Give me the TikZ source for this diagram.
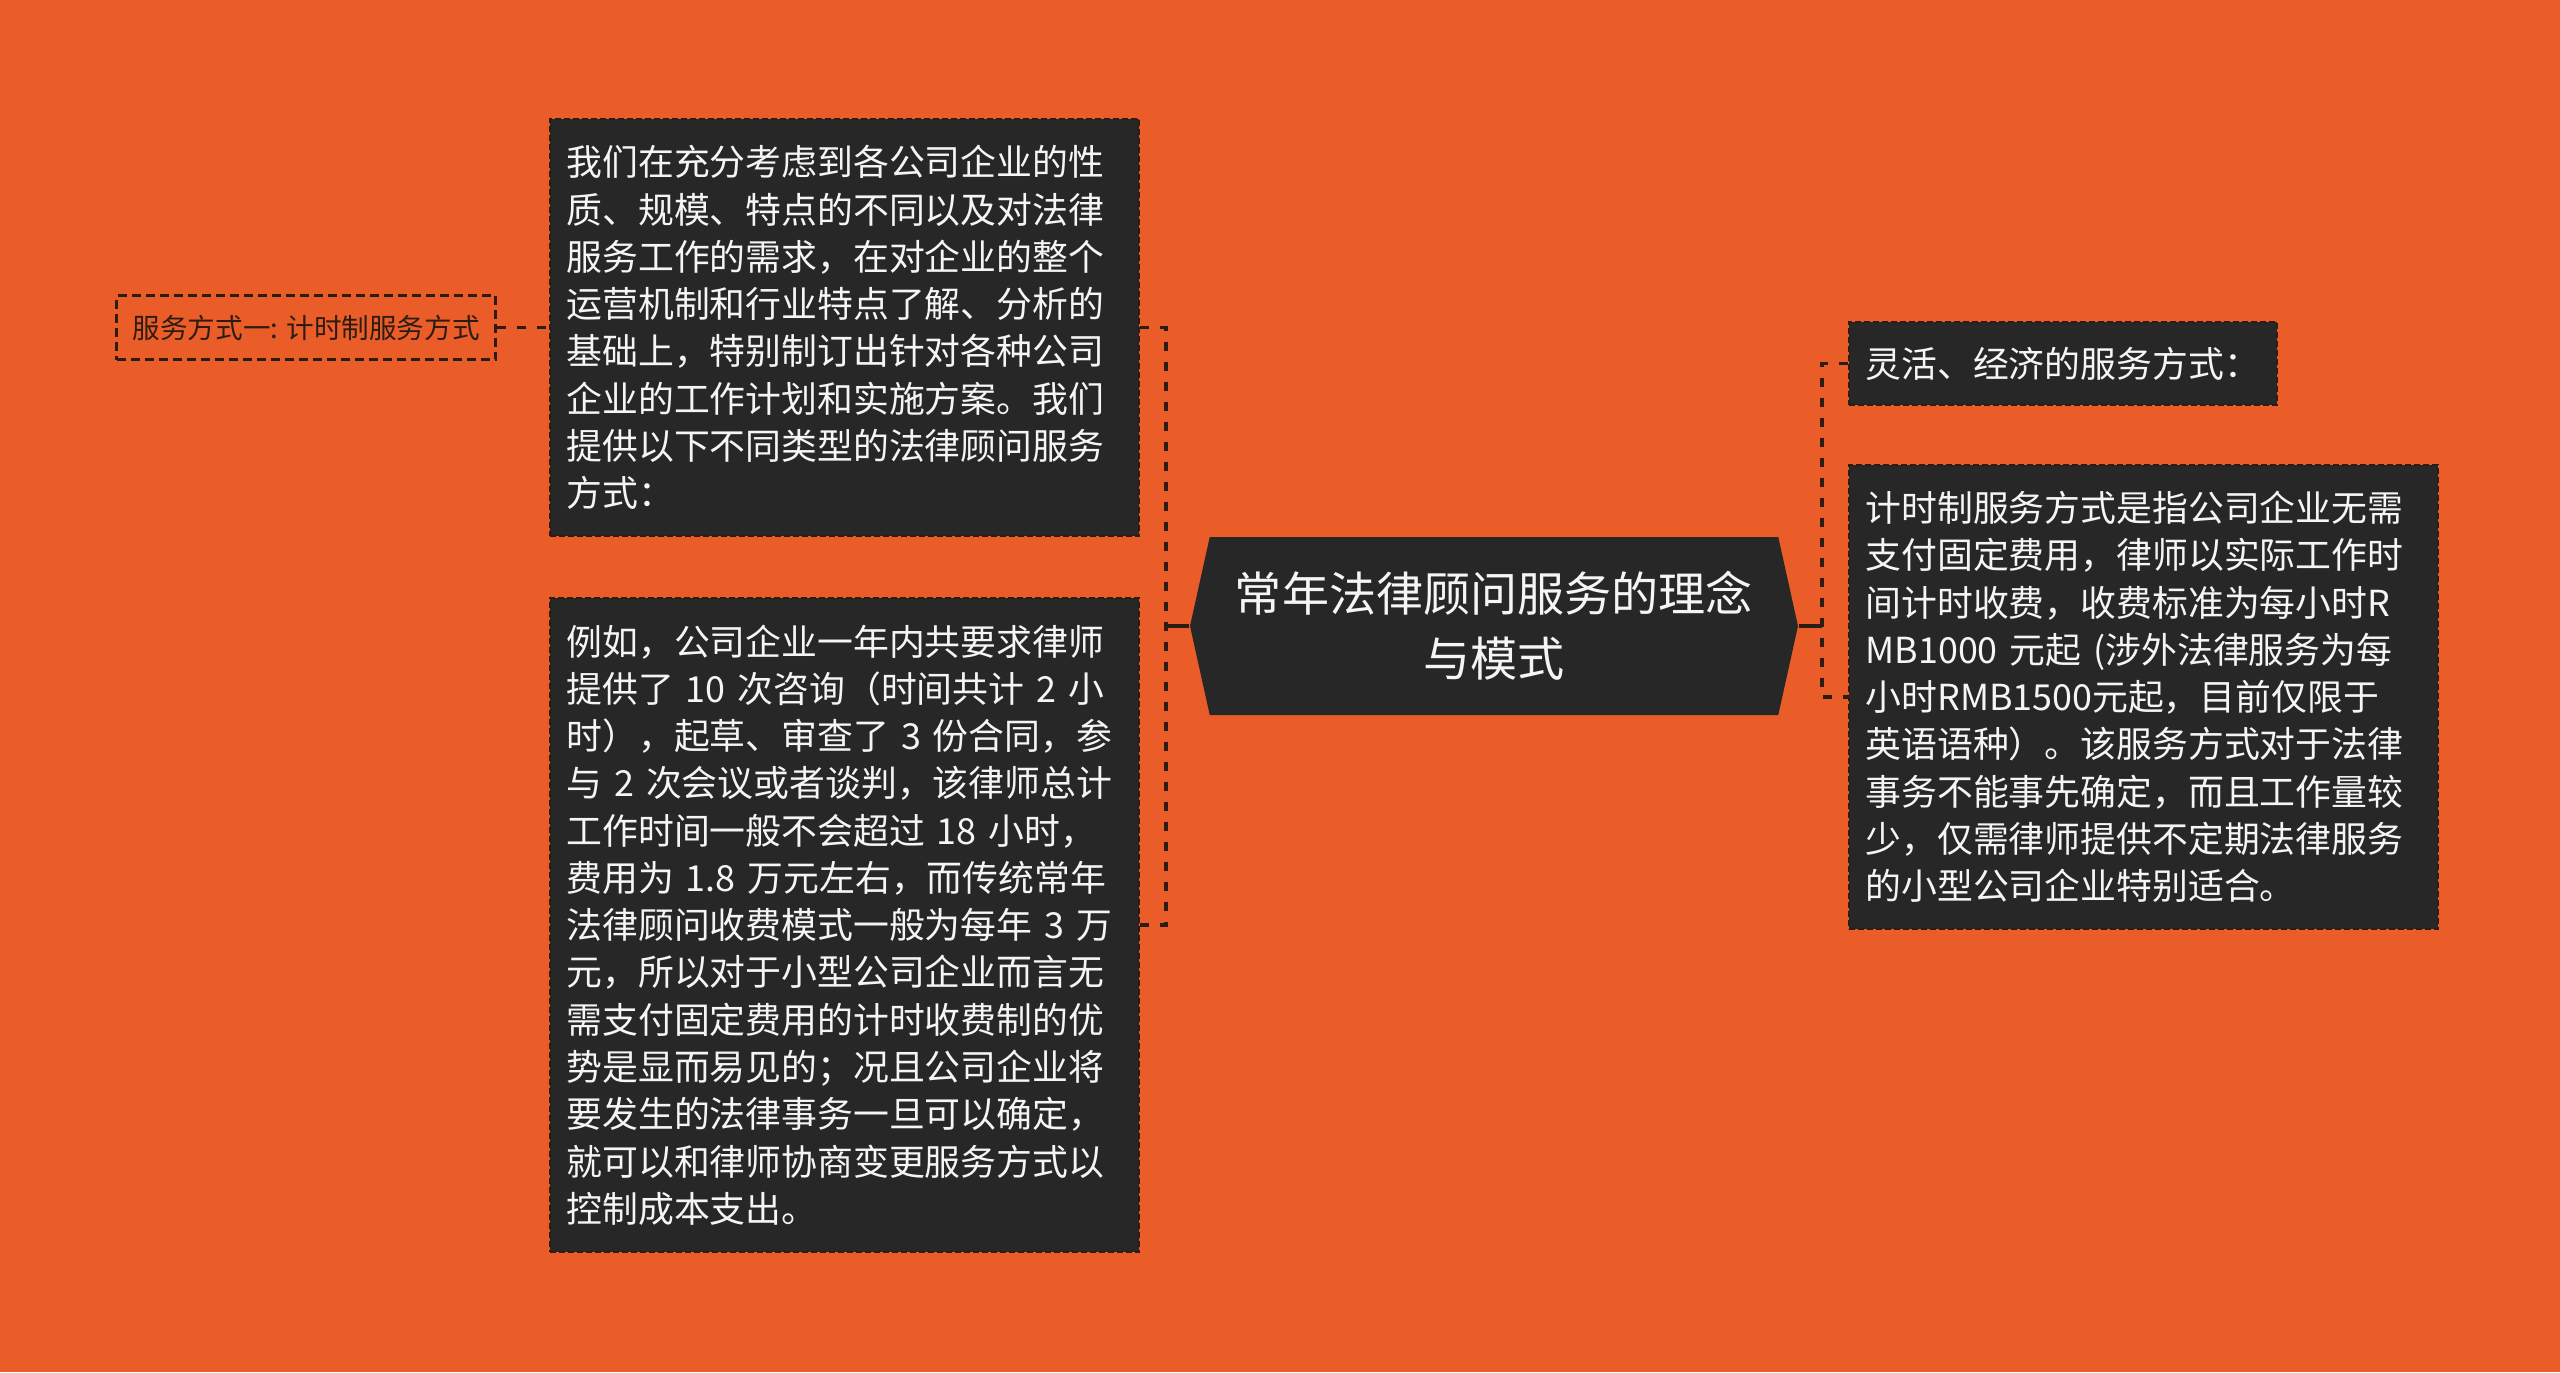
\documentclass[tikz,border=0pt]{standalone}
\usepackage{fontspec}
\setmainfont{Noto Sans CJK SC}
\usetikzlibrary{positioning,
                shapes.symbols}
\definecolor{mbg}{RGB}{235,93,40}
\definecolor{mbox}{RGB}{39,39,39}
\definecolor{mline}{RGB}{45,28,20}
\definecolor{mtext}{RGB}{245,245,245}
\tikzset{
    core/.style = {signal, signal to=east and west, signal pointer angle=155,
                   fill=mbox, text=mtext, align=center, inner sep=0pt,
                   minimum width=60.8mm, minimum height=17.8mm,
                   font=\fontsize{13.4pt}{18.5pt}\selectfont},
    block/.style = {rectangle, draw=mline, fill=mbox, text=mtext, line width=0.6pt,
                    dash pattern=on 0.6mm off 0.3mm, align=left, text width=55.6mm,
                    inner xsep=1.65mm, inner ysep=0pt,
                    font=\fontsize{10.2pt}{13.45pt}\selectfont},
    tag/.style = {rectangle, draw=mline, text=mline, line width=0.7pt,
                  dash pattern=on 0.9mm off 0.5mm, inner xsep=1.4mm,
                  minimum width=37.9mm, minimum height=6.4mm,
                  font=\fontsize{7.85pt}{10pt}\selectfont},
    link/.style = {draw=mline, line width=1.1pt, dash pattern=on 0.9mm off 1.1mm},
    stub/.style = {draw=mline, line width=1.1pt}
}

\begin{document}
\begin{tikzpicture}[x=0.1mm, y=-0.1mm]
\fill [mbg] (0,0) rectangle (2560,1372);
\useasboundingbox (0,0) rectangle (2560,1372);
% centre
\node [core] (core) at (1494,626) {常年法律顾问服务的理念\\与模式};
% left side
\node [block, minimum height=41.7mm] (plan) at (844.5,327.5)
      {我们在充分考虑到各公司企业的性\\质、规模、特点的不同以及对法律\\服务工作的需求，在对企业的整个\\运营机制和行业特点了解、分析的\\基础上，特别制订出针对各种公司\\企业的工作计划和实施方案。我们\\提供以下不同类型的法律顾问服务\\方式：};
\node [block, minimum height=65.4mm] (case) at (844.5,925)
      {例如，公司企业一年内共要求律师\\提供了 10 次咨询（时间共计 2 小\\时），起草、审查了 3 份合同，参\\与 2 次会议或者谈判，该律师总计\\工作时间一般不会超过 18 小时，\\费用为 1.8 万元左右，而传统常年\\法律顾问收费模式一般为每年 3 万\\元，所以对于小型公司企业而言无\\需支付固定费用的计时收费制的优\\势是显而易见的；况且公司企业将\\要发生的法律事务一旦可以确定，\\就可以和律师协商变更服务方式以\\控制成本支出。};
\node [tag, left=5.2mm of plan] (mode) {服务方式一: 计时制服务方式};
% right side
\node [block, text width=39.5mm, minimum height=8.3mm, anchor=west] (flex) at (1848,363.5)
      {灵活、经济的服务方式：};
\node [block, minimum height=46.4mm, anchor=west] (hour) at (1848,697)
      {计时制服务方式是指公司企业无需\\支付固定费用，律师以实际工作时\\间计时收费，收费标准为每小时R\\MB1000 元起 (涉外法律服务为每\\小时RMB1500元起，目前仅限于\\英语语种）。该服务方式对于法律\\事务不能事先确定，而且工作量较\\少，仅需律师提供不定期法律服务\\的小型公司企业特别适合。};
% connectors
\coordinate (lj) at (1166,626);
\coordinate (rj) at (1822,626);
\draw [stub] (core.west) -- (lj);
\draw [link] (plan.east) -| (lj) |- (case.east);
\draw [link] (mode.east) -- (plan.west);
\draw [stub] (core.east) -- (rj);
\draw [link] (flex.west) -| (rj) |- (hour.west);
\end{tikzpicture}
\end{document}
